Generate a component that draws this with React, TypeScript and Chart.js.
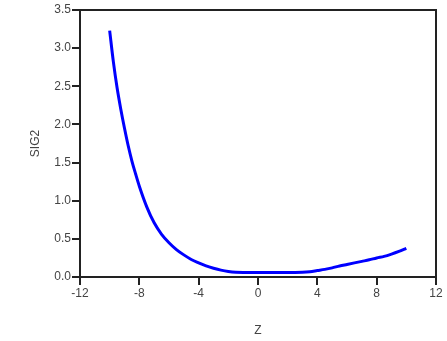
import React, { useEffect, useRef } from "react";
import { Chart, registerables } from "chart.js";

Chart.register(...registerables);

const zValues: number[] = [
  -10, -9.75, -9.5, -9.25, -9, -8.75, -8.5, -8.25, -8, -7.5, -7, -6.5, -6, -5.5, -5, -4.5, -4,
  -3.5, -3, -2.5, -2, -1.5, -1, -0.5, 0, 0.5, 1, 1.5, 2, 2.5, 3, 3.5, 4, 4.5, 5, 5.5, 6, 6.5, 7,
  7.5, 8, 8.5, 9, 9.5, 10,
];
const sig2Values: number[] = [
  3.23, 2.82, 2.48, 2.2, 1.95, 1.72, 1.52, 1.35, 1.19, 0.92, 0.71, 0.56, 0.45, 0.36, 0.29, 0.23,
  0.185, 0.145, 0.115, 0.09, 0.072, 0.062, 0.06, 0.06, 0.06, 0.06, 0.06, 0.06, 0.06, 0.06, 0.062,
  0.07, 0.085, 0.1, 0.12, 0.145, 0.165, 0.185, 0.205, 0.225, 0.25, 0.27, 0.3, 0.335, 0.375,
];
const xTickLabels: string[] = ["-12", "-8", "-4", "0", "4", "8", "12"];
const yTickLabels: string[] = ["0.0", "0.5", "1.0", "1.5", "2.0", "2.5", "3.0", "3.5"];

const boxPlugin = {
  id: "boxPlugin",
  afterDraw(chart: any) {
    const { ctx, chartArea } = chart;
    ctx.save();
    ctx.strokeStyle = "#222";
    ctx.lineWidth = 2;
    ctx.strokeRect(chartArea.left, chartArea.top, chartArea.right - chartArea.left, chartArea.bottom - chartArea.top);
    ctx.restore();
  },
};

export default function App() {
  const ref = useRef<HTMLCanvasElement | null>(null);
  useEffect(() => {
    if (!ref.current) return;
    const font = { family: "'Liberation Sans', Arial, sans-serif", size: 12 };
    const chart = new Chart(ref.current, {
      type: "line",
      data: {
        datasets: [
          {
            data: zValues.map((z, i) => ({ x: z, y: sig2Values[i] })),
            borderColor: "#0000ff",
            borderWidth: 3,
            pointRadius: 0,
            cubicInterpolationMode: "monotone",
            fill: false,
          },
        ],
      },
      options: {
        animation: false,
        responsive: false,
        maintainAspectRatio: false,
        layout: { padding: { left: 24, right: 11, top: 10, bottom: 0 } },
        plugins: { legend: { display: false }, tooltip: { enabled: false } },
        scales: {
          x: {
            type: "linear",
            min: -12,
            max: 12,
            afterFit: (s: any) => {
              s.height = 64;
            },
            afterBuildTicks: (s: any) => {
              s.ticks = xTickLabels.map((t) => ({ value: Number(t) }));
            },
            ticks: {
              font,
              color: "#444",
              padding: 1,
              maxRotation: 0,
              autoSkip: false,
              callback: (v: any) => String(v),
            },
            grid: { drawOnChartArea: false, drawTicks: true, tickLength: 8, color: "#222", lineWidth: 2 },
            border: { display: true, color: "#222", width: 2 },
            title: { display: true, text: "Z", font, color: "#444", padding: { top: 0, bottom: 3 } },
          },
          y: {
            type: "linear",
            min: 0,
            max: 3.5,
            afterFit: (s: any) => {
              s.width = 56;
            },
            afterBuildTicks: (s: any) => {
              s.ticks = yTickLabels.map((t) => ({ value: Number(t) }));
            },
            ticks: {
              font,
              color: "#444",
              padding: 1,
              autoSkip: false,
              callback: (v: any) => Number(v).toFixed(1),
            },
            grid: { drawOnChartArea: false, drawTicks: true, tickLength: 8, color: "#222", lineWidth: 2 },
            border: { display: true, color: "#222", width: 2 },
            title: { display: true, text: "SIG2", font, color: "#444", padding: { top: 4, bottom: 0 } },
          },
        },
      },
      plugins: [boxPlugin],
    } as any);
    return () => chart.destroy();
  }, []);
  return (
    <div style={{ position: "fixed", left: 0, top: 0, width: 447, height: 341, background: "#fff" }}>
      <canvas ref={ref} width={447} height={341} style={{ width: 447, height: 341 }} />
    </div>
  );
}
